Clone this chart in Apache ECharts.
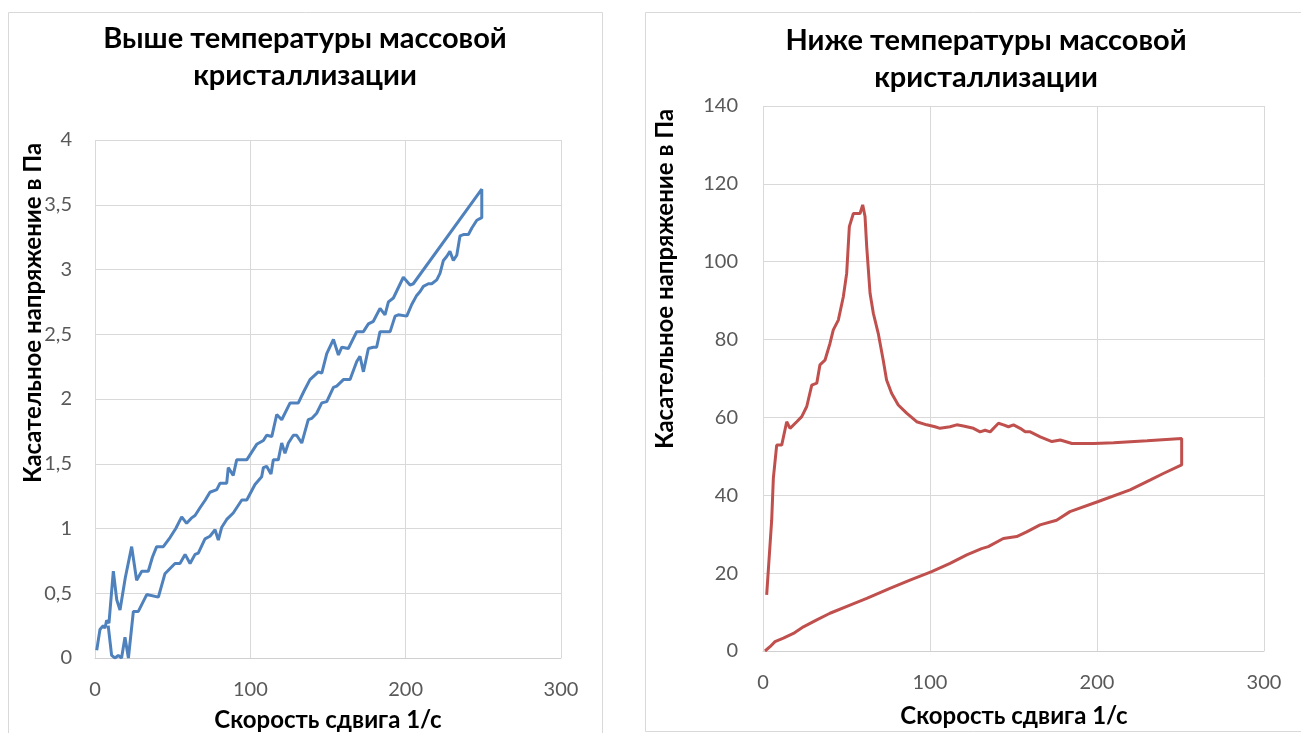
<!DOCTYPE html>
<html>
<head>
<meta charset="utf-8">
<script src="https://cdn.jsdelivr.net/npm/echarts@6/dist/echarts.min.js"></script>
<style>
html,body{margin:0;padding:0;background:#fff;}
#c{width:1301px;height:733px;}
</style>
</head>
<body>
<div id="c"></div>
<script>
// ---- data ----
var leftTitle = 'Выше температуры массовой\nкристаллизации';
var rightTitle = 'Ниже температуры массовой\nкристаллизации';
var xTitle = 'Скорость сдвига 1/с';
var yTitle = 'Касательное напряжение в Па';

var leftX = [1.1,3.2,5.3,6.4,7.5,9.0,11.8,14.0,16.1,19.5,23.6,26.8,30.1,34.3,37.0,39.7,44.0,48.3,52.0,55.8,59.0,62.0,64.4,67.6,71.0,74.0,78.4,80.5,84.8,85.8,89.0,91.2,97.7,104.1,108.4,110.5,113.8,117.0,120.2,125.6,130.9,134.5,138.4,143.8,146.0,149.2,153.5,156.7,158.9,163.1,168.5,172.8,176.0,179.2,183.5,186.7,188.9,192.1,198.5,202.8,204.9,249.0,
  249.0,245.8,242.6,240.4,237.2,235.0,232.9,230.7,228.5,226.4,224.3,222.1,220.0,216.8,214.6,211.4,209.3,207.1,203.9,200.7,195.3,193.2,190.0,187.8,183.5,181.3,179.2,176.0,172.8,170.6,168.5,164.2,159.9,155.6,153.5,149.2,146.0,142.7,139.5,137.3,133.1,129.8,127.7,124.5,122.3,120.2,118.0,114.8,113.3,110.5,108.4,107.3,103.0,97.7,94.5,89.0,84.8,81.6,79.4,77.3,74.0,70.8,66.5,64.4,61.2,58.0,54.7,51.5,45.0,40.8,33.3,27.9,24.7,21.5,19.3,17.1,15.0,12.9,10.7,8.5];
var leftY = [0.06,0.22,0.25,0.23,0.29,0.27,0.67,0.45,0.37,0.62,0.86,0.60,0.67,0.67,0.78,0.86,0.86,0.93,1.00,1.09,1.04,1.08,1.10,1.16,1.22,1.28,1.30,1.35,1.35,1.47,1.41,1.53,1.53,1.65,1.68,1.72,1.71,1.88,1.84,1.97,1.97,2.06,2.15,2.21,2.20,2.35,2.46,2.34,2.40,2.39,2.52,2.52,2.58,2.60,2.70,2.65,2.75,2.78,2.94,2.88,2.89,3.62,
  3.40,3.38,3.32,3.27,3.27,3.26,3.11,3.07,3.14,3.10,3.07,2.97,2.92,2.89,2.89,2.87,2.83,2.80,2.73,2.64,2.65,2.64,2.52,2.52,2.52,2.40,2.40,2.39,2.21,2.33,2.29,2.15,2.15,2.10,2.09,1.98,1.97,1.89,1.85,1.84,1.66,1.72,1.72,1.66,1.58,1.66,1.53,1.53,1.42,1.48,1.47,1.40,1.34,1.22,1.22,1.12,1.07,1.01,0.91,0.99,0.94,0.92,0.81,0.80,0.73,0.80,0.73,0.73,0.65,0.47,0.49,0.36,0.36,0.00,0.16,0.00,0.02,0.00,0.02,0.25];

var rightX = [2.2,5.2,6.2,8.2,11.2,12.2,14.2,16.2,20.2,23.2,26.2,29.2,32.2,34.1,37.1,40.1,42.1,45.1,48.1,50.1,51.7,54.1,58.1,59.7,61.1,62.1,64.1,66.1,69.0,72.0,74.0,77.0,81.0,86.0,92.0,98.0,103.0,106.0,112.0,116.0,120.0,126.0,130.0,133.0,136.0,141.0,144.0,147.0,150.0,154.0,157.0,160.0,166.0,173.0,178.0,185.0,198.0,210.0,230.0,250.7,
  250.7,239.7,231.7,219.8,200.8,183.8,175.8,165.9,157.9,151.9,143.9,134.9,130.9,122.0,112.0,101.0,88.0,76.0,62.1,52.1,40.1,32.2,24.2,18.2,12.2,7.2,4.2,1.2];
var rightY = [14.4,33.6,44.4,52.9,52.9,52.5,58.9,57.2,58.9,60.2,62.8,68.3,68.8,73.5,74.7,79.0,82.5,85.0,91.0,97.0,109.0,112.4,112.4,114.6,111.6,103.9,91.9,86.7,81.6,74.7,69.6,66.2,63.2,61.1,58.9,58.1,57.6,57.2,57.6,58.1,57.8,57.2,56.3,56.7,56.3,58.5,58.1,57.6,58.1,57.2,56.3,56.3,55.0,53.8,54.2,53.3,53.3,53.5,54.0,54.6,
  47.8,45.6,43.9,41.4,38.4,35.8,33.6,32.4,30.6,29.4,28.9,26.8,26.3,24.7,22.5,20.4,18.2,16.1,13.5,11.8,9.7,8.0,6.2,4.5,3.3,2.4,1.1,0.0];

function zip(xs, ys){ var o=[]; for(var i=0;i<xs.length;i++) o.push([xs[i], ys[i]]); return o; }

var FONT = 'Lato';
var gridColor = '#d9d9d9';
var labelStyle = {color:'#595959', fontFamily:FONT, fontSize:20};

function xAx(gi){
  return {type:'value', gridIndex:gi, min:0, max:300, interval:100,
    axisLine:{show:true, lineStyle:{color:'#d0d0d0', width:1}},
    axisTick:{show:false},
    splitLine:{show:true, lineStyle:{color:gridColor, width:1}},
    axisLabel:Object.assign({margin:22}, labelStyle)};
}
function yAx(gi, max, interval, margin){
  return {type:'value', gridIndex:gi, min:0, max:max, interval:interval,
    axisLine:{show:false}, axisTick:{show:false},
    splitLine:{show:true, lineStyle:{color:gridColor, width:1}},
    axisLabel:Object.assign({margin:margin, formatter:function(v){ return String(v).replace('.', ','); }}, labelStyle)};
}

var chart = echarts.init(document.getElementById('c'), null, {renderer:'canvas'});
chart.setOption({
  animation:false,
  backgroundColor:'#fff',
  grid:[
    {left:95, top:140, width:466, height:518},
    {left:763, top:106, width:501, height:545}
  ],
  xAxis:[xAx(0), xAx(1)],
  yAxis:[yAx(0, 4, 0.5, 23), yAx(1, 140, 20, 25)],
  series:[
    {type:'line', xAxisIndex:0, yAxisIndex:0, data:zip(leftX, leftY), showSymbol:false, smooth:false,
      lineStyle:{color:'#4F81BD', width:3}, itemStyle:{color:'#4F81BD'}},
    {type:'line', xAxisIndex:1, yAxisIndex:1, data:zip(rightX, rightY), showSymbol:false, smooth:false,
      lineStyle:{color:'#C0504D', width:3}, itemStyle:{color:'#C0504D'}}
  ],
  graphic:[
    {type:'rect', shape:{x:8.5, y:12.5, width:594, height:740}, style:{fill:null, stroke:'#d9d9d9', lineWidth:1}, z:-10},
    {type:'rect', shape:{x:645.5, y:12.5, width:700, height:719}, style:{fill:null, stroke:'#d9d9d9', lineWidth:1}, z:-10},
    {type:'text', x:305, y:57, style:{text:leftTitle, fill:'#000', font:'bold 29px Lato', textAlign:'center', textVerticalAlign:'middle', lineHeight:37}},
    {type:'text', x:986, y:59, style:{text:rightTitle, fill:'#000', font:'bold 29px Lato', textAlign:'center', textVerticalAlign:'middle', lineHeight:37}},
    {type:'text', x:328, y:720, style:{text:xTitle, fill:'#000', font:'bold 24px Lato', textAlign:'center', textVerticalAlign:'middle'}},
    {type:'text', x:1014, y:716, style:{text:xTitle, fill:'#000', font:'bold 24px Lato', textAlign:'center', textVerticalAlign:'middle'}},
    {type:'text', x:33, y:313, rotation:Math.PI/2, style:{text:yTitle, fill:'#000', font:'bold 24px Lato', textAlign:'center', textVerticalAlign:'middle'}},
    {type:'text', x:665, y:279, rotation:Math.PI/2, style:{text:yTitle, fill:'#000', font:'bold 24px Lato', textAlign:'center', textVerticalAlign:'middle'}}
  ]
});
</script>
</body>
</html>
